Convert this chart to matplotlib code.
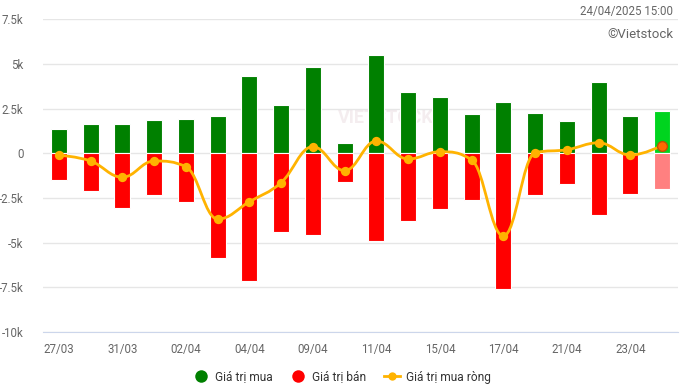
import matplotlib
matplotlib.use("Agg")
import matplotlib.pyplot as plt
from matplotlib.path import Path
from matplotlib.patches import PathPatch
from matplotlib.lines import Line2D
import numpy as np

plt.rcParams['font.family'] = ['Roboto', 'DejaVu Sans']

dates = ["27/03", "28/03", "31/03", "01/04", "02/04", "03/04", "04/04", "08/04",
         "09/04", "10/04", "11/04", "14/04", "15/04", "16/04", "17/04", "18/04",
         "21/04", "22/04", "23/04", "24/04"]
buy = [1.36, 1.64, 1.64, 1.86, 1.92, 2.09, 4.33, 2.70, 4.83, 0.58,
       5.50, 3.43, 3.15, 2.20, 2.87, 2.26, 1.81, 3.99, 2.09, 2.37]
sell = [-1.49, -2.11, -3.06, -2.33, -2.73, -5.86, -7.15, -4.40, -4.57, -1.61,
        -4.89, -3.79, -3.12, -2.61, -7.59, -2.33, -1.72, -3.45, -2.28, -2.00]
net = [-0.10, -0.43, -1.34, -0.43, -0.75, -3.68, -2.71, -1.64, 0.37, -0.97,
       0.69, -0.32, 0.09, -0.37, -4.63, 0.03, 0.20, 0.59, -0.10, 0.43]
yticks = [-10, -7.5, -5, -2.5, 0, 2.5, 5, 7.5]
ytick_labels = ["-10k", "-7.5k", "-5k", "-2.5k", "0", "2.5k", "5k", "7.5k"]
legend_labels = ["Giá trị mua", "Giá trị bán", "Giá trị mua ròng"]

W, H = 681, 391
fig = plt.figure(figsize=(W / 100, H / 100), dpi=100)
ax = fig.add_axes([43 / W, 1 - 332 / H, (678 - 43) / W, (332 - 19.3) / H])

n = len(dates)
x = np.arange(n)
buy_colors = ["#008000"] * (n - 1) + ["#00d41f"]
sell_colors = ["#ff0000"] * (n - 1) + ["#ff8080"]
ax.bar(x, buy, width=0.5, color=buy_colors, edgecolor="white", linewidth=0.8, zorder=2)
ax.bar(x, sell, width=0.5, color=sell_colors, edgecolor="white", linewidth=0.8, zorder=2)

# Highcharts-style spline path
xs = x.astype(float)
ys = np.array(net, dtype=float)
smoothing, denom = 1.5, 2.5
verts = [(xs[0], ys[0])]
codes = [Path.MOVETO]
rc = (xs[0], ys[0])
for i in range(1, n):
    px, py = xs[i], ys[i]
    if i < n - 1:
        lx, ly = xs[i - 1], ys[i - 1]
        nx, ny = xs[i + 1], ys[i + 1]
        lcx = (smoothing * px + lx) / denom
        lcy = (smoothing * py + ly) / denom
        rcx = (smoothing * px + nx) / denom
        rcy = (smoothing * py + ny) / denom
        if rcx != lcx:
            corr = ((rcy - lcy) * (rcx - px)) / (rcx - lcx) + py - rcy
            lcy += corr
            rcy += corr
        if lcy > ly and lcy > py:
            lcy = max(ly, py); rcy = 2 * py - lcy
        elif lcy < ly and lcy < py:
            lcy = min(ly, py); rcy = 2 * py - lcy
        if rcy > ny and rcy > py:
            rcy = max(ny, py); lcy = 2 * py - rcy
        elif rcy < ny and rcy < py:
            rcy = min(ny, py); lcy = 2 * py - rcy
        lc = (lcx, lcy)
        newrc = (rcx, rcy)
    else:
        lc = (px, py)
        newrc = (px, py)
    verts += [rc, lc, (px, py)]
    codes += [Path.CURVE4, Path.CURVE4, Path.CURVE4]
    rc = newrc
ax.add_patch(PathPatch(Path(verts, codes), facecolor="none", edgecolor="#ffb300",
                       linewidth=2, zorder=3))
ax.scatter(xs[:-1], ys[:-1], s=45, color="#ffb300", zorder=4, linewidths=0)
ax.scatter(xs[-1:], ys[-1:], s=50, color="#ff6a00", edgecolor="#c05000",
           linewidths=1, zorder=5)

ax.set_xlim(-0.5, n - 0.5)
ax.set_ylim(-10, 7.5)
ax.set_yticks(yticks)
ax.set_yticklabels(ytick_labels)
ax.set_xticks(x[::2])
ax.set_xticklabels(dates[::2])
ax.grid(axis="y", color="#e6e6e6", linewidth=1, zorder=0)
ax.set_axisbelow(True)
for s in ["top", "right", "left"]:
    ax.spines[s].set_visible(False)
ax.spines["bottom"].set_color("#ccd6eb")
ax.spines["bottom"].set_position(("data", -10))
ax.tick_params(axis="both", length=0, labelsize=8.3, colors="#666666")
ax.tick_params(axis="y", pad=14)
ax.tick_params(axis="x", pad=8)
for lab in ax.get_yticklabels():
    lab.set_horizontalalignment("right")

# watermark
ax.text(10.3, 2.0, "VIETSTOCK", fontsize=13, fontweight="bold", color="#dcc4cc",
        alpha=0.3, ha="center", va="center", zorder=1)

fig.text(673 / W, 1 - 11 / H, "24/04/2025 15:00", ha="right", va="center",
         fontsize=8.3, color="#666666")
fig.text(673 / W, 1 - 35 / H, "©Vietstock", ha="right", va="center",
         fontsize=9.5, color="#666666")

handles = [
    Line2D([], [], marker="o", color="none", markerfacecolor="#008000",
           markeredgecolor="none", markersize=9),
    Line2D([], [], marker="o", color="none", markerfacecolor="#ff0000",
           markeredgecolor="none", markersize=9),
    Line2D([], [], marker="o", color="#ffb300", linewidth=2,
           markerfacecolor="#ffb300", markeredgecolor="none", markersize=6),
]
fig.legend(handles, legend_labels, loc="center", bbox_to_anchor=(342 / W, 1 - 377 / H),
           ncol=3, frameon=False, fontsize=8.6, labelcolor="#333333",
           handlelength=1.3, handletextpad=0.5, columnspacing=1.5)

fig.savefig("out.png", dpi=100)
